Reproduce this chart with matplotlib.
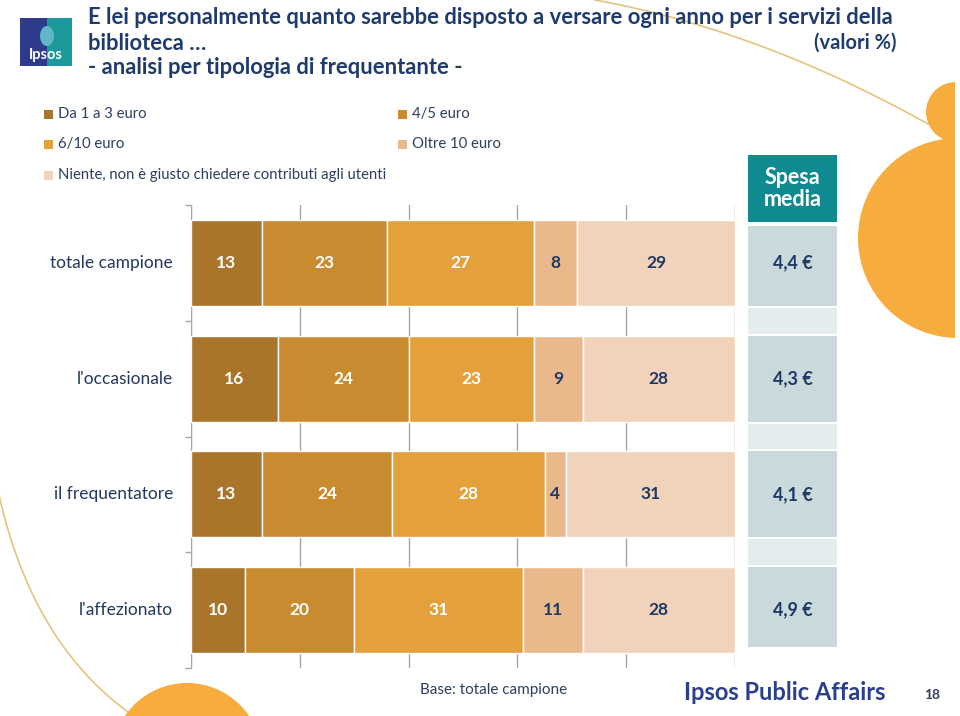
import matplotlib
matplotlib.use("Agg")
import matplotlib.pyplot as plt
import matplotlib.patches as mpatches
import matplotlib.transforms as mtransforms
import numpy as np

plt.rcParams['font.family'] = ['Lato', 'DejaVu Sans']

# ---------------- data ----------------
categories = ["totale campione", "l'occasionale", "il frequentatore", "l'affezionato"]
series_names = ["Da 1 a 3 euro", "4/5 euro", "6/10 euro", "Oltre 10 euro",
                "Niente, non è giusto chiedere contributi agli utenti"]
da1a3 = [13, 16, 13, 10]
da4a5 = [23, 24, 24, 20]
da6a10 = [27, 23, 28, 31]
oltre10 = [8, 9, 4, 11]
niente = [29, 28, 31, 28]
spesa_media = ["4,4 €", "4,3 €", "4,1 €", "4,9 €"]

series = [da1a3, da4a5, da6a10, oltre10, niente]
colors = ["#A8752A", "#C98B2F", "#E3A03B", "#E9B98C", "#F0D3BA"]
label_colors = ["white", "white", "white", "#1F3864", "#1F3864"]

W, H = 960, 716
fig = plt.figure(figsize=(W / 100, H / 100), dpi=100)

def fx(px):
    return px / W

def fy(py):
    return 1 - py / H

# ---------------- decoration layer ----------------
deco = fig.add_axes([0, 0, 1, 1], zorder=0)
deco.set_xlim(0, W)
deco.set_ylim(H, 0)
deco.axis("off")
clip = mpatches.Rectangle((0, 0), 955, H, transform=deco.transData, visible=False)
deco.add_patch(clip)
orange = "#F7AC3E"
for (cx, cy, r) in [(958, 238, 100), (956, 112, 30), (187, 758, 75)]:
    c = mpatches.Circle((cx, cy), r, color=orange, lw=0)
    deco.add_patch(c)
    c.set_clip_path(clip)
# thin curves
t = np.linspace(0, 1, 60)
p0, p1, p2 = np.array([595, 0]), np.array([760, 30]), np.array([928, 124])
curve = ((1 - t) ** 2)[:, None] * p0 + (2 * (1 - t) * t)[:, None] * p1 + (t ** 2)[:, None] * p2
deco.plot(curve[:, 0], curve[:, 1], color="#E3C57E", lw=1.2)
q0, q1, q2 = np.array([-2, 490]), np.array([30, 640]), np.array([128, 712])
curve2 = ((1 - t) ** 2)[:, None] * q0 + (2 * (1 - t) * t)[:, None] * q1 + (t ** 2)[:, None] * q2
deco.plot(curve2[:, 0], curve2[:, 1], color="#E3C57E", lw=1.2)

# logo
deco.add_patch(mpatches.Rectangle((20, 18), 52, 48, color="#2E3A8C", lw=0))
deco.add_patch(mpatches.Rectangle((47, 18), 25, 48, color="#1C9A9B", lw=0))
deco.add_patch(mpatches.Ellipse((47, 36), 14, 20, color="#5FB7C8", lw=0))
deco.text(46, 55, "Ipsos", color="white", fontsize=10.5, fontweight="bold",
          ha="center", va="center")

# ---------------- titles ----------------
title_color = "#1F3B6E"
fig.text(fx(88), fy(17), "E lei personalmente quanto sarebbe disposto a versare ogni anno per i servizi della",
         fontsize=15.8, fontweight="bold", color=title_color, va="center", ha="left")
fig.text(fx(88), fy(43), "biblioteca …", fontsize=15.8, fontweight="bold",
         color=title_color, va="center", ha="left")
fig.text(fx(896), fy(43), "(valori %)", fontsize=14.5, fontweight="bold",
         color=title_color, va="center", ha="right")
fig.text(fx(88), fy(68), "- analisi per tipologia di frequentante -", fontsize=15.8,
         fontweight="bold", color=title_color, va="center", ha="left")

# ---------------- legend ----------------
leg_pos = [(44, 114), (398, 114), (44, 144), (398, 144), (44, 175)]
for (lx, ly), name, col in zip(leg_pos, series_names, colors):
    deco.add_patch(mpatches.Rectangle((lx, ly - 4.5), 9, 9, color=col, lw=0))
    fig.text(fx(lx + 14), fy(ly), name, fontsize=10.7, color="#2F3E5C",
             va="center", ha="left")

# ---------------- main chart ----------------
ax_left, ax_right, ax_top, ax_bot = 191, 735, 205, 668
ax = fig.add_axes([fx(ax_left), fy(ax_bot), fx(ax_right - ax_left), (ax_bot - ax_top) / H],
                  zorder=2)
ax.patch.set_alpha(0)
n = len(categories)
y = np.arange(n)
bar_h = 0.743
left = np.zeros(n)
for vals, col, lc in zip(series, colors, label_colors):
    vals = np.array(vals, dtype=float)
    ax.barh(y, vals, left=left, height=bar_h, color=col, edgecolor="white",
            linewidth=1.0, zorder=3)
    for yi, (l, v) in enumerate(zip(left, vals)):
        ax.text(l + v / 2, yi, f"{int(v)}", ha="center", va="center",
                fontsize=12.5, fontweight="bold", color=lc, zorder=4)
    left += vals

ax.set_xlim(0, 100)
ax.set_ylim(n - 0.5, -0.5)
ax.set_xticks(np.arange(0, 101, 20))
ax.set_xticklabels([])
ax.tick_params(axis="x", length=0)
ax.grid(axis="x", color="#A6A6A6", lw=1.0, zorder=1)
ax.set_yticks(np.arange(-0.5, n, 1.0))
ax.set_yticklabels([])
ax.tick_params(axis="y", direction="out", length=4, color="#A6A6A6", width=1.0)
for s in ["top", "right", "bottom"]:
    ax.spines[s].set_visible(False)
ax.spines["left"].set_color("#A6A6A6")

trans = mtransforms.blended_transform_factory(ax.transAxes, ax.transData)
for yi, cat in enumerate(categories):
    ax.text((173 - ax_left) / (ax_right - ax_left), yi, cat, transform=trans,
            ha="right", va="center", fontsize=12.5, color="#24385E")

# ---------------- Spesa media column ----------------
tx0, tx1 = 748, 837
tab = fig.add_axes([fx(tx0), fy(ax_bot), fx(tx1 - tx0), (ax_bot - ax_top) / H], zorder=2)
tab.set_xlim(0, 1)
tab.set_ylim(n - 0.5, -0.5)
tab.axis("off")
px_per_unit = (ax_bot - ax_top) / n

def py2d(py):
    return -0.5 + (py - ax_top) / px_per_unit

tab.add_patch(mpatches.Rectangle((0, py2d(155)), 1, py2d(222) - py2d(155),
                                 color="#0E8A90", lw=0, clip_on=False))
tab.text(0.5, (py2d(155) + py2d(222)) / 2, "Spesa\nmedia", ha="center", va="center",
         fontsize=15.5, fontweight="bold", color="white", linespacing=1.1, clip_on=False)
gap = 2.0 / px_per_unit
for yi, val in enumerate(spesa_media):
    top = yi - bar_h / 2 + (gap * 3 if yi == 0 else 0)
    bot = yi + bar_h / 2 - (6 / px_per_unit if yi == n - 1 else 0)
    tab.add_patch(mpatches.Rectangle((0, top), 1, bot - top, color="#C9D9DC", lw=0,
                                     clip_on=False))
    tab.text(0.5, yi, val, ha="center", va="center", fontsize=13,
             fontweight="bold", color="#1F3864")
    if yi < n - 1:
        t0 = yi + bar_h / 2 + gap
        t1 = yi + 1 - bar_h / 2 - gap
        tab.add_patch(mpatches.Rectangle((0, t0), 1, t1 - t0, color="#E4ECEE", lw=0,
                                         clip_on=False))

# ---------------- footer ----------------
fig.text(fx(420), fy(690), "Base: totale campione", fontsize=11, color="#2F3E5C",
         va="center", ha="left")
fig.text(fx(684), fy(693), "Ipsos Public Affairs", fontsize=17, fontweight="bold",
         color="#2B3E8F", va="center", ha="left")
fig.text(fx(932), fy(695), "18", fontsize=10, fontweight="bold", color="#2F3E5C",
         va="center", ha="center")

fig.savefig("out.png", dpi=100)
